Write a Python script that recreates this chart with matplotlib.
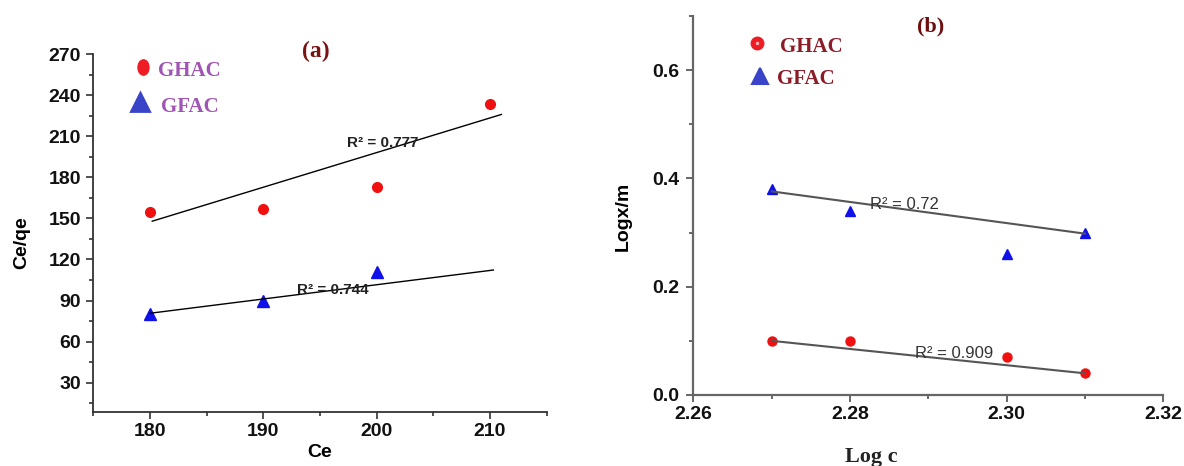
import numpy as np
import matplotlib
matplotlib.use('Agg')
import matplotlib.pyplot as plt
from matplotlib.path import Path
from matplotlib.transforms import Affine2D
from matplotlib.ticker import MultipleLocator

# panel (a): Ce vs Ce/qe
ce = [180, 190, 200, 210]
ghac_a = [155, 157, 173, 234]
ce_gfac = [180, 190, 200]
gfac_a = [80, 90, 111]
# trend lines as drawn in the figure (end points)
fit_ghac_a_x = [180.2, 211.0]
fit_ghac_a_y = [148, 226]
fit_gfac_a_x = [180, 210.3]
fit_gfac_a_y = [80.7, 112.3]

# panel (b): Log c vs Logx/m
logc = [2.27, 2.28, 2.30, 2.31]
ghac_b = [0.10, 0.10, 0.07, 0.04]
gfac_b = [0.38, 0.34, 0.26, 0.30]
fit_ghac_b_x = [2.27, 2.31]
fit_ghac_b_y = [0.100, 0.040]
fit_gfac_b_x = [2.27, 2.31]
fit_gfac_b_y = [0.376, 0.298]

sans = 'Liberation Sans'
serif = 'Liberation Serif'
plt.rcParams['font.family'] = [sans, 'DejaVu Sans']

fig = plt.figure(figsize=(11.84, 4.66), dpi=100)
axa = fig.add_axes([0.0788, 0.1152, 0.3829, 0.7698])
axb = fig.add_axes([0.5856, 0.1524, 0.3969, 0.8133])

ellipse = Path.unit_circle().transformed(Affine2D().scale(0.72, 1.0))

# ---------- (a) ----------
axa.plot(ce, ghac_a, ls='none', marker='o', ms=7, color='#f01010', mec='#f01010')
axa.plot(ce_gfac, gfac_a, ls='none', marker='^', ms=8, color='#1010e8')
axa.plot(fit_ghac_a_x, fit_ghac_a_y, color='black', lw=1)
axa.plot(fit_gfac_a_x, fit_gfac_a_y, color='black', lw=1)

axa.text(197.4, 205, 'R² = 0.777', fontsize=11, fontweight='bold', color='#222', va='center')
axa.text(193.0, 97.6, 'R² = 0.744', fontsize=11, fontweight='bold', color='#222', va='center')

# legend drawn as in the original figure
axa.plot([179.36], [260.5], ls='none', marker=ellipse, ms=11, color='#ee1c24', clip_on=False)
axa.plot([179.1], [235.3], ls='none', marker='^', ms=13, color='#3a44c8', mec='#3a44c8',
         mew=2, clip_on=False)
axa.text(180.7, 258, 'GHAC', family=serif, fontsize=15, fontweight='bold', color='#a055b4', va='center')
axa.text(181.0, 231.2, 'GFAC', family=serif, fontsize=15, fontweight='bold', color='#a055b4', va='center')
axa.text(194.6, 272, '(a)', family=serif, fontsize=17, fontweight='bold', color='#7a1212',
         ha='center', va='center', clip_on=False)

axa.set_xlim(175, 215)
axa.set_ylim(8.3, 270.5)
axa.xaxis.set_minor_locator(MultipleLocator(5))
axa.yaxis.set_minor_locator(MultipleLocator(15))
axa.set_xticks([180, 190, 200, 210])
axa.set_yticks([30, 60, 90, 120, 150, 180, 210, 240, 270])
axa.set_xlabel('Ce', fontsize=14, fontweight='bold')
axa.set_ylabel('Ce/qe', fontsize=14, fontweight='bold')
axa.xaxis.set_label_coords(0.5, -0.088)
axa.yaxis.set_label_coords(-0.14, 0.473)
for s in ['top', 'right']:
    axa.spines[s].set_visible(False)
for s in ['left', 'bottom']:
    axa.spines[s].set_color('#333333')
    axa.spines[s].set_linewidth(1.3)
axa.tick_params(which='major', direction='out', length=5, width=1.2, color='#333333',
                labelsize=14, pad=4)
axa.tick_params(axis='x', which='major', pad=3)
axa.tick_params(which='minor', direction='out', length=3, width=1.2, color='#333333')
for lab in axa.get_xticklabels() + axa.get_yticklabels():
    lab.set_fontweight('bold')
    lab.set_color('#111111')

# ---------- (b) ----------
axb.plot(logc, ghac_b, ls='none', marker='o', ms=6.5, color='#f01010')
axb.plot(logc, gfac_b, ls='none', marker='^', ms=7.5, color='#1010e8')
axb.plot(fit_ghac_b_x, fit_ghac_b_y, color='#555555', lw=1.5)
axb.plot(fit_gfac_b_x, fit_gfac_b_y, color='#555555', lw=1.5)

axb.text(2.2826, 0.351, 'R² = 0.72', fontsize=12, color='#333', va='center')
axb.text(2.2883, 0.077, 'R² = 0.909', fontsize=12, color='#333', va='center')

axb.plot([2.2681], [0.650], ls='none', marker='o', ms=9, color='#ee1c24', clip_on=False)
axb.plot([2.2681], [0.650], ls='none', marker='o', ms=1.5, color='#f8b0b0', clip_on=False)
axb.plot([2.2685], [0.589], ls='none', marker='^', ms=11, color='#3a44c8', mec='#3a44c8',
         mew=1.5, clip_on=False)
axb.text(2.2711, 0.643, 'GHAC', family=serif, fontsize=15, fontweight='bold', color='#8b1c28', va='center')
axb.text(2.2707, 0.583, 'GFAC', family=serif, fontsize=15, fontweight='bold', color='#8b1c28', va='center')
axb.text(2.2903, 0.68, '(b)', family=serif, fontsize=16, fontweight='bold', color='#6e0e0e',
         ha='center', va='center')

axb.set_xlim(2.26, 2.32)
axb.set_ylim(0, 0.7)
axb.set_xticks([2.26, 2.28, 2.30, 2.32])
axb.set_xticklabels(['2.26', '2.28', '2.30', '2.32'])
axb.xaxis.set_minor_locator(MultipleLocator(0.01))
axb.set_yticks([0.0, 0.2, 0.4, 0.6])
axb.set_yticklabels(['0.0', '0.2', '0.4', '0.6'])
axb.yaxis.set_minor_locator(MultipleLocator(0.1))
axb.set_xlabel('Log c', family=serif, fontsize=16, fontweight='bold', color='#222')
axb.set_ylabel('Logx/m', fontsize=14, fontweight='bold')
axb.xaxis.set_label_coords(0.378, -0.138)
axb.yaxis.set_label_coords(-0.131, 0.47)
for s in ['top', 'right']:
    axb.spines[s].set_visible(False)
for s in ['left', 'bottom']:
    axb.spines[s].set_color('#666666')
    axb.spines[s].set_linewidth(1.6)
axb.tick_params(which='major', direction='out', length=5, width=1.4, color='#666666',
                labelsize=14, pad=5)
axb.tick_params(axis='x', which='major', pad=3)
axb.tick_params(which='minor', direction='out', length=3, width=1.4, color='#666666')
for lab in axb.get_xticklabels() + axb.get_yticklabels():
    lab.set_fontweight('bold')
    lab.set_color('#111111')

fig.savefig('out.png', dpi=100)
